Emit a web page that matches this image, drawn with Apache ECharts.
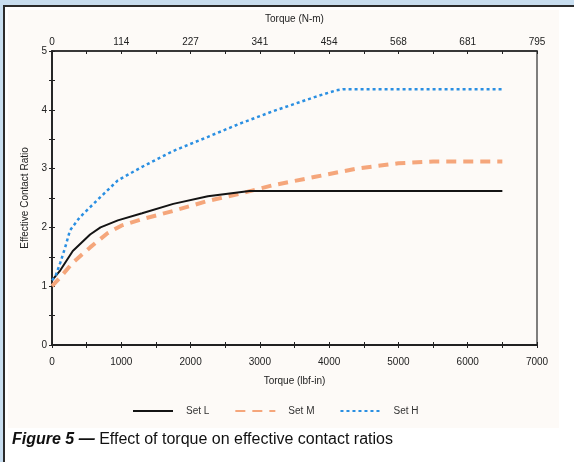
<!DOCTYPE html>
<html>
<head>
<meta charset="utf-8">
<script src="https://cdn.jsdelivr.net/npm/echarts@6/dist/echarts.min.js"></script>
<style>
  html, body { margin: 0; padding: 0; }
  body { width: 574px; height: 462px; background: #c8def0; position: relative; overflow: hidden; }
  #frame { position: absolute; left: 3px; top: 5px; width: 620px; height: 520px; background: #fff; border: 2px solid #2b2b2b; }
  #panel { position: absolute; left: 8px; top: 10px; width: 551px; height: 418px; background: #fdfaf7; }
  #chart { position: absolute; left: 0; top: 0; width: 574px; height: 462px; }
</style>
</head>
<body>
<div id="frame"></div>
<div id="panel"></div>
<div id="chart"></div>
<script>
// torque (lbf-in) vs effective contact ratio
const setL = [[0, 1.1], [120, 1.27], [300, 1.6], [550, 1.88], [700, 2.0], [950, 2.12],
  [1300, 2.24], [1750, 2.4], [2250, 2.53], [2850, 2.62], [6500, 2.62]];
const setM = [[0, 1.0], [120, 1.15], [300, 1.4], [550, 1.66], [800, 1.9], [1000, 2.03],
  [1300, 2.14], [1750, 2.28], [2250, 2.45], [2700, 2.57], [3200, 2.72], [3800, 2.86],
  [4400, 3.0], [5000, 3.09], [5500, 3.12], [6500, 3.12]];
const setH = [[0, 1.1], [50, 1.17], [120, 1.4], [190, 1.66], [260, 1.95], [400, 2.17],
  [650, 2.46], [950, 2.8], [1300, 3.03], [1750, 3.3], [2250, 3.54], [2700, 3.76],
  [3200, 3.98], [3800, 4.22], [4100, 4.33], [4200, 4.35], [6500, 4.35]];

// top axis shows the same ticks in N-m
const topLabels = ["0", "114", "227", "341", "454", "568", "681", "795"];

const axisColor = "#222";
const font = "'Liberation Sans', Arial, sans-serif";

const tickBoth = (pos, extra) => Object.assign({
  position: pos,
  axisLine: { show: true, lineStyle: { color: axisColor, width: 1.5 } },
  axisTick: { show: true, length: 3, lineStyle: { color: axisColor, width: 1 } },
  minorTick: { show: true, splitNumber: 2, length: 3, lineStyle: { color: axisColor, width: 1 } },
  splitLine: { show: false },
}, extra);

const chart = echarts.init(document.getElementById("chart"), null, { renderer: "canvas" });

chart.setOption({
  animation: false,
  backgroundColor: "transparent",
  textStyle: { fontFamily: font },
  grid: {
    left: 52, right: 37, top: 51, bottom: 117,
    show: true, borderColor: "#555", borderWidth: 1.5, backgroundColor: "transparent",
  },
  xAxis: [
    tickBoth("bottom", {
      type: "value", min: 0, max: 7000, interval: 1000,
      name: "Torque (lbf-in)", nameLocation: "middle", nameGap: 31,
      nameTextStyle: { fontSize: 10, color: axisColor, fontFamily: font },
      axisLabel: { fontSize: 10, color: axisColor, margin: 12, fontFamily: font, formatter: (v) => String(v) },
    }),
    tickBoth("top", {
      type: "value", min: 0, max: 7000, interval: 1000,
      name: "Torque (N-m)", nameLocation: "middle", nameGap: 27,
      nameTextStyle: { fontSize: 10, color: axisColor, fontFamily: font },
      axisLabel: {
        fontSize: 10, color: axisColor, margin: 4, fontFamily: font,
        formatter: (v) => topLabels[Math.round(v / 1000)],
      },
    }),
    tickBoth("bottom", {
      type: "value", min: 0, max: 7000, interval: 1000,
      axisTick: { show: true, inside: true, length: 3, lineStyle: { color: axisColor } },
      axisLabel: { show: false },
    }),
    tickBoth("top", {
      type: "value", min: 0, max: 7000, interval: 1000,
      axisTick: { show: true, inside: true, length: 3, lineStyle: { color: axisColor } },
      axisLabel: { show: false },
    }),
  ],
  yAxis: [
    tickBoth("left", {
      type: "value", min: 0, max: 5, interval: 1,
      name: "Effective Contact Ratio", nameLocation: "middle", nameGap: 22,
      nameTextStyle: { fontSize: 10, color: axisColor, fontFamily: font },
      axisLabel: { fontSize: 10, color: axisColor, margin: 5, fontFamily: font },
    }),
    tickBoth("left", {
      type: "value", min: 0, max: 5, interval: 1,
      axisTick: { show: true, inside: true, length: 3, lineStyle: { color: axisColor } },
      axisLabel: { show: false },
    }),
  ],
  legend: {
    left: 127, top: 401,
    itemWidth: 40, itemHeight: 10, itemGap: 25,
    itemStyle: { opacity: 0 },
    textStyle: { fontSize: 10, color: "#333", fontFamily: font, padding: [0, 0, 0, 8] },
    data: ["Set L", "Set M", "Set H"],
  },
  series: [
    {
      name: "Set L", type: "line", data: setL, symbol: "none",
      lineStyle: { color: "#141414", width: 2 }, itemStyle: { color: "#141414" }, z: 4,
    },
    {
      name: "Set M", type: "line", data: setM, symbol: "none",
      lineStyle: { color: "#f5a67b", width: 4, type: [10, 7] }, itemStyle: { color: "#f5a67b" }, z: 3,
    },
    {
      name: "Set H", type: "line", data: setH, symbol: "none",
      lineStyle: { color: "#2a8fe2", width: 2.5, type: [3, 3] }, itemStyle: { color: "#2a8fe2" }, z: 5,
    },
  ],
  graphic: [
    {
      type: "text", left: 12, top: 432,
      style: {
        text: "{b|Figure 5 —} Effect of torque on effective contact ratios",
        fontSize: 16, fill: "#111", fontFamily: font,
        rich: {
          b: { fontSize: 16, fontWeight: "bold", fontStyle: "italic", fill: "#111", fontFamily: font },
        },
      },
    },
  ],
});
</script>
</body>
</html>
